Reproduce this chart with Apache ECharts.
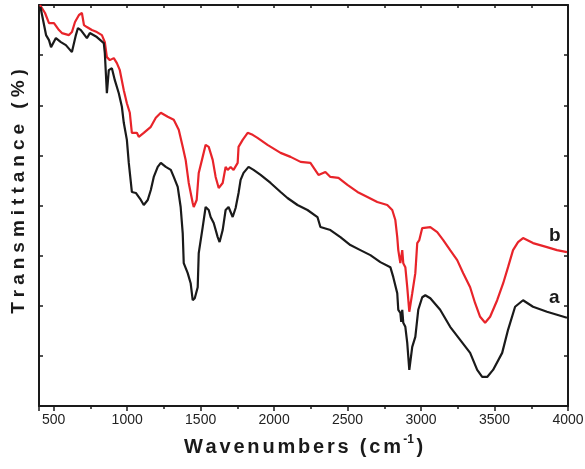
<!DOCTYPE html>
<html>
<head>
<meta charset="utf-8">
<script src="https://cdn.jsdelivr.net/npm/echarts@6/dist/echarts.min.js"></script>
<style>
  html, body { margin: 0; padding: 0; background: #fff; }
  #chart1 { width: 585px; height: 469px; }
</style>
</head>
<body>
<div id="chart1"></div>
<script>
  // sample a (black) : wavenumber, transmittance
  var waveA = [410, 448, 468, 482, 515, 549, 583, 624, 651, 665, 685, 726, 746, 794, 841, 848, 862, 875, 896, 916,
    943, 964, 977, 998, 1011, 1032, 1059, 1093, 1113, 1140, 1161, 1181, 1208, 1229, 1263, 1297, 1317, 1344, 1364, 1378,
    1385, 1412, 1432, 1446, 1460, 1480, 1487, 1514, 1534, 1555, 1568, 1589, 1616, 1629, 1650, 1670, 1690, 1718, 1738, 1758,
    1772, 1792, 1826, 1860, 1908, 1976, 2044, 2091, 2159, 2227, 2295, 2315, 2383, 2451, 2519, 2587, 2655, 2723, 2791, 2811,
    2838, 2845, 2859, 2865, 2872, 2879, 2893, 2906, 2920, 2927, 2940, 2961, 2981, 3008, 3029, 3063, 3130, 3198, 3266, 3334,
    3382, 3416, 3450, 3490, 3552, 3592, 3640, 3694, 3762, 3857, 3925, 3993];
  var transA = [79.6, 74.0, 73.0, 71.6, 73.4, 72.6, 72.0, 70.6, 74.0, 75.4, 75.0, 73.4, 74.4, 73.6, 72.4, 70.4, 62.4, 67.0, 67.4, 65.0,
    62.4, 59.7, 56.5, 53.1, 48.5, 42.7, 42.5, 41.1, 40.1, 41.1, 43.1, 45.7, 47.7, 48.5, 47.7, 47.1, 45.7, 43.7, 39.7, 34.5,
    28.5, 26.5, 24.5, 21.1, 21.5, 23.7, 30.5, 35.7, 39.7, 39.1, 37.7, 36.5, 33.7, 32.7, 35.1, 39.1, 39.7, 37.7, 39.5, 42.5,
    45.1, 46.5, 47.7, 47.1, 46.1, 44.5, 42.7, 41.5, 40.1, 39.1, 37.7, 35.7, 35.1, 33.7, 32.1, 31.1, 30.1, 28.7, 27.7, 25.7,
    22.5, 19.2, 18.6, 16.8, 19.2, 16.6, 15.8, 12.6, 7.2, 7.0, 11.8, 13.8, 19.2, 21.7, 22.1, 21.5, 19.2, 15.8, 13.2, 10.6,
    7.2, 5.8, 5.8, 7.2, 10.6, 15.2, 19.8, 21.1, 19.8, 18.8, 18.2, 17.6];

  // sample b (red)
  var waveB = [407, 441, 468, 502, 536, 556, 604, 624, 645, 672, 692, 706, 726, 760, 794, 828, 848, 862, 882, 909,
    930, 950, 977, 998, 1018, 1032, 1066, 1079, 1113, 1161, 1195, 1229, 1276, 1317, 1351, 1378, 1398, 1419, 1446, 1453,
    1473, 1487, 1514, 1534, 1555, 1582, 1602, 1623, 1650, 1670, 1684, 1704, 1724, 1752, 1758, 1786, 1820, 1854, 1887, 1955,
    2044, 2112, 2180, 2247, 2302, 2349, 2383, 2438, 2499, 2567, 2635, 2702, 2770, 2804, 2825, 2838, 2845, 2859, 2872, 2879,
    2893, 2906, 2920, 2940, 2961, 2974, 2988, 3008, 3063, 3110, 3151, 3198, 3246, 3287, 3334, 3368, 3402, 3436, 3470, 3518,
    3559, 3592, 3626, 3660, 3694, 3762, 3857, 3925, 3993];
  var transB = [80.0, 78.4, 76.4, 76.4, 75.0, 74.4, 74.0, 74.6, 76.6, 78.0, 78.4, 76.0, 75.6, 75.0, 74.6, 74.0, 72.6, 69.6, 69.0, 69.4,
    68.4, 67.0, 63.0, 60.4, 58.5, 54.5, 54.5, 53.7, 54.5, 55.7, 57.5, 58.5, 57.7, 57.1, 55.1, 51.7, 49.1, 44.5, 40.5, 39.7,
    41.1, 46.5, 49.7, 52.1, 51.7, 49.1, 45.7, 43.5, 44.5, 47.7, 47.1, 47.7, 47.1, 48.5, 51.7, 53.1, 54.5, 54.1, 53.5, 52.1,
    50.5, 49.7, 48.7, 48.5, 46.1, 46.7, 45.7, 45.5, 44.1, 42.7, 41.7, 40.7, 40.1, 39.1, 37.1, 33.7, 31.1, 28.5, 31.1, 28.5,
    27.7, 23.7, 18.8, 22.5, 26.5, 32.5, 33.1, 35.5, 35.7, 34.7, 33.1, 31.1, 29.1, 26.5, 23.7, 20.5, 17.8, 16.6, 17.8, 21.1,
    24.5, 27.7, 31.1, 32.7, 33.5, 32.5, 31.7, 31.1, 30.7];

  var seriesNames = ['a', 'b'];
  var seriesColors = ['#1a1a1a', '#e8242a'];

  const pairs = (xs, ys) => xs.map((x, i) => [x, ys[i]]);

  // wrap each character in a rich token so the title gets letter spacing
  const spaced = (text, tag) => text.split('').map(c => '{' + tag + '|' + c + '}').join('');

  const drawSpectra = chartId => {
    let myChart = echarts.init(document.getElementById(chartId));
    let option;

    let frameAxis = {
      axisLine: { show: true, onZero: false, lineStyle: { color: '#1a1a1a', width: 2 } },
      splitLine: { show: false }
    };

    option = {
      animation: false,
      backgroundColor: '#fff',
      grid: { left: 39, right: 17, top: 5, bottom: 63, outerBoundsMode: 'none', containLabel: false },
      xAxis: [
        Object.assign({
          type: 'value',
          min: 400,
          max: 4000,
          splitNumber: 7,
          position: 'bottom',
          axisTick: { show: true, inside: false, length: 5, lineStyle: { width: 1.5, color: '#1a1a1a' } },
          minorTick: { show: true, splitNumber: 2, length: 3, lineStyle: { width: 1.5, color: '#1a1a1a' } },
          axisLabel: {
            showMinLabel: false,
            formatter: v => String(v),
            fontFamily: 'Liberation Sans, Arial, sans-serif',
            fontSize: 14,
            color: '#222',
            margin: 7
          },
          name: spaced('Wavenumbers (cm', 'n') + '{sup|-1}{n|)}',
          nameLocation: 'middle',
          nameGap: 28,
          nameTextStyle: {
            rich: {
              n: { fontFamily: 'Liberation Sans, Arial, sans-serif', fontSize: 20, fontWeight: 'bold', color: '#1a1a1a', padding: [0, 1.4] },
              sup: { fontFamily: 'Liberation Sans, Arial, sans-serif', fontSize: 12, fontWeight: 'bold', color: '#1a1a1a', padding: [0, 1, 14, 1] }
            }
          }
        }, frameAxis),
        Object.assign({
          type: 'value',
          min: 400,
          max: 4000,
          splitNumber: 7,
          position: 'top',
          axisTick: { show: true, inside: true, length: 3, lineStyle: { width: 1.5, color: '#1a1a1a' } },
          minorTick: { show: true, splitNumber: 2, length: 3, lineStyle: { width: 1.5, color: '#1a1a1a' } },
          axisLabel: { show: false }
        }, frameAxis)
      ],
      yAxis: [
        Object.assign({
          type: 'value',
          min: 0,
          max: 80,
          interval: 10,
          position: 'left',
          axisTick: { show: true, inside: true, length: 4, lineStyle: { width: 1.5, color: '#1a1a1a' } },
          axisLabel: { show: false },
          name: spaced('Transmittance (%)', 't'),
          nameLocation: 'middle',
          nameGap: 11,
          nameTextStyle: {
            padding: [0, 0, 0, 28],
            rich: {
              t: { fontFamily: 'Liberation Sans, Arial, sans-serif', fontSize: 19, fontWeight: 'bold', color: '#1a1a1a', padding: [0, 2.5] }
            }
          }
        }, frameAxis),
        Object.assign({
          type: 'value',
          min: 0,
          max: 80,
          interval: 10,
          position: 'right',
          axisTick: { show: true, inside: true, length: 4, lineStyle: { width: 1.5, color: '#1a1a1a' } },
          axisLabel: { show: false }
        }, frameAxis)
      ],
      series: [
        {
          name: seriesNames[0],
          type: 'line',
          data: pairs(waveA, transA),
          showSymbol: false,
          symbol: 'none',
          lineStyle: { color: seriesColors[0], width: 2.2 },
          z: 3
        },
        {
          name: seriesNames[1],
          type: 'line',
          data: pairs(waveB, transB),
          showSymbol: false,
          symbol: 'none',
          lineStyle: { color: seriesColors[1], width: 2.2 },
          z: 2
        }
      ],
      graphic: [
        { type: 'text', left: 549, top: 226, style: { text: 'b', font: 'bold 19px Liberation Sans, Arial, sans-serif', fill: '#1a1a1a' } },
        { type: 'text', left: 549, top: 288, style: { text: 'a', font: 'bold 19px Liberation Sans, Arial, sans-serif', fill: '#1a1a1a' } }
      ]
    };

    option && myChart.setOption(option);
  }

  drawSpectra('chart1');
</script>
</body>
</html>
